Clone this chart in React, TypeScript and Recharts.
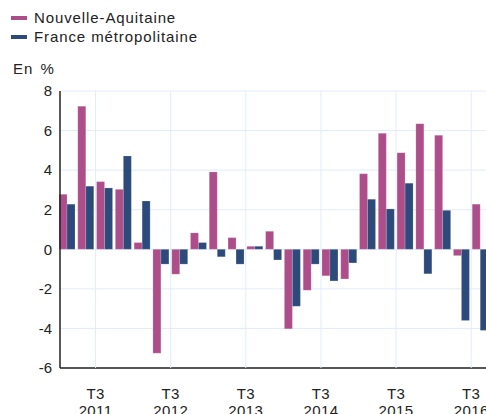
import { BarChart, Bar, XAxis, YAxis, CartesianGrid } from "recharts";

const quarters = [
  "2011 T1", "2011 T2", "2011 T3", "2011 T4",
  "2012 T1", "2012 T2", "2012 T3", "2012 T4",
  "2013 T1", "2013 T2", "2013 T3", "2013 T4",
  "2014 T1", "2014 T2", "2014 T3", "2014 T4",
  "2015 T1", "2015 T2", "2015 T3", "2015 T4",
  "2016 T1", "2016 T2", "2016 T3",
];

const nouvelleAquitaine = [
  2.78, 7.23, 3.42, 3.03, 0.34, -5.25, -1.26, 0.83, 3.91, 0.59, 0.15, 0.91,
  -4.02, -2.07, -1.34, -1.5, 3.82, 5.86, 4.88, 6.35, 5.76, -0.32, 2.28,
];

const franceMetro = [
  2.28, 3.19, 3.1, 4.72, 2.44, -0.75, -0.75, 0.34, -0.38, -0.75, 0.15, -0.54,
  -2.88, -0.75, -1.6, -0.69, 2.53, 2.04, 3.34, -1.24, 1.97, -3.6, -4.1,
];

const yTicks = [-6, -4, -2, 0, 2, 4, 6, 8];

const PINK = "#ad4e8b";
const BLUE = "#2c4a7a";
const GRID = "#e1ecfa";
const TEXT = "#222";
const FONT = "'Liberation Sans', Arial, sans-serif";
const PLOT_TOP = 91;
const PLOT_BOTTOM = 368;

const data = quarters.map((q, i) => ({
  q,
  na: nouvelleAquitaine[i],
  fr: franceMetro[i],
}));

const isT3 = (q: string) => q.endsWith("T3");

// label + vertical grid line sit on the left edge of each T3 band
function QuarterTick(props: any) {
  const { x, payload } = props;
  if (!isT3(payload.value)) return null;
  const [year, quarter] = payload.value.split(" ");
  const left = x - (payload.offset ?? 0);
  const txt = { textAnchor: "middle" as const, fontSize: 15, fill: TEXT, fontFamily: FONT, letterSpacing: 0.4 };
  return (
    <g>
      <line x1={left} x2={left} y1={PLOT_TOP} y2={PLOT_BOTTOM} stroke={GRID} strokeWidth={1} />
      <text x={left} y={399} {...txt}>{quarter}</text>
      <text x={left} y={416} {...txt}>{year}</text>
    </g>
  );
}

export default function App() {
  return (
    <div
      style={{
        position: "absolute",
        left: 0,
        top: 0,
        width: 486,
        height: 414,
        overflow: "hidden",
        background: "#fff",
        fontFamily: FONT,
      }}
    >
      <div
        style={{
          position: "absolute",
          left: 11,
          top: 8,
          fontSize: 15,
          letterSpacing: 0.9,
          color: TEXT,
          lineHeight: "19px",
        }}
      >
        <div style={{ display: "flex", alignItems: "center" }}>
          <span style={{ width: 16, height: 4, background: PINK, marginRight: 7 }} />
          Nouvelle-Aquitaine
        </div>
        <div style={{ display: "flex", alignItems: "center" }}>
          <span style={{ width: 16, height: 4, background: BLUE, marginRight: 7 }} />
          France métropolitaine
        </div>
      </div>
      <div
        style={{
          position: "absolute",
          left: 13,
          top: 60,
          fontSize: 15,
          letterSpacing: 1,
          wordSpacing: 2,
          color: TEXT,
        }}
      >
        En %
      </div>
      <div style={{ position: "absolute", left: 0, top: 0 }}>
        <BarChart
          width={490}
          height={414}
          data={data}
          margin={{ top: PLOT_TOP, right: 0, bottom: 0, left: 0 }}
          barGap={0}
          barSize={8}
        >
          <CartesianGrid stroke={GRID} strokeWidth={1} vertical={false} />
          <XAxis
            dataKey="q"
            interval={0}
            height={414 - PLOT_BOTTOM}
            padding={{ left: -2, right: 0 }}
            axisLine={{ stroke: TEXT, strokeWidth: 1.5 }}
            tickLine={false}
            tick={<QuarterTick />}
          />
          <YAxis
            width={60}
            domain={[-6, 8]}
            ticks={yTicks}
            interval={0}
            axisLine={{ stroke: TEXT, strokeWidth: 1.5 }}
            tickLine={false}
            tick={{ fontSize: 15, fill: TEXT, fontFamily: FONT }}
          />
          <Bar dataKey="na" fill={PINK} stroke="#fff" strokeOpacity={0.35} strokeWidth={0.5} isAnimationActive={false} />
          <Bar dataKey="fr" fill={BLUE} stroke="#fff" strokeOpacity={0.35} strokeWidth={0.5} isAnimationActive={false} />
        </BarChart>
      </div>
    </div>
  );
}
